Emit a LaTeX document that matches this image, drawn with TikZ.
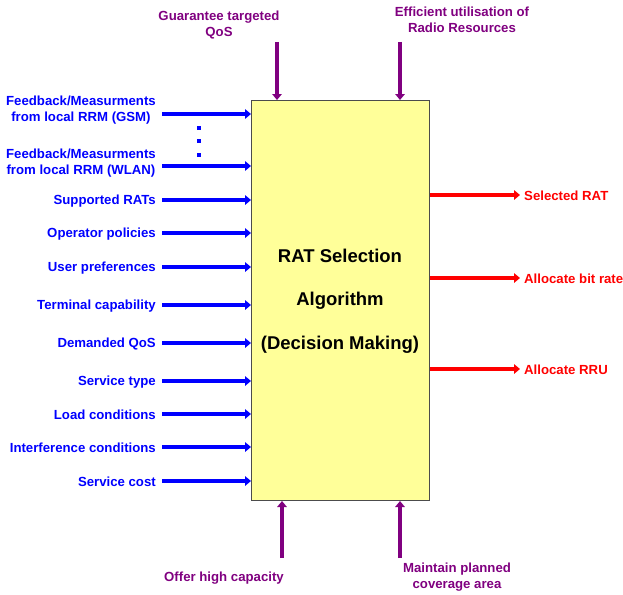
\documentclass[tikz,border=0pt]{standalone}
\usepackage{fontspec}
\setmainfont{Liberation Sans}
\usetikzlibrary{arrows.meta}
\definecolor{inblue}{RGB}{0,0,255}
\definecolor{outred}{RGB}{255,0,0}
\definecolor{goalpurple}{RGB}{128,0,128}
\definecolor{boxyellow}{RGB}{255,255,153}
\tikzset{
  lbl/.style={font=\fontsize{13.2}{16}\selectfont\bfseries, inner sep=0pt, align=center},
  inarrow/.style={draw=inblue, line width=4pt, -{Triangle[length=6pt,width=9.5pt]}},
  outarrow/.style={draw=outred, line width=4pt, -{Triangle[length=6pt,width=9.5pt]}},
  goalarrow/.style={draw=goalpurple, line width=4pt, -{Triangle[length=6pt,width=9.5pt]}},
  dotmark/.style={fill=inblue, inner sep=0pt, minimum size=3.5pt},
  ctext/.style={font=\fontsize{18.5}{22}\selectfont\bfseries, inner sep=0pt}
}
\begin{document}
\begin{tikzpicture}[x=1pt,y=-1pt]
\useasboundingbox (0,0) rectangle (623,594);
% main box
\node[draw=black!70, fill=boxyellow, line width=1pt, minimum width=178pt, minimum height=400pt, anchor=north west, inner sep=0pt] (box) at (251,100) {};
\node[ctext] (t1) at (340,256) {RAT Selection};
\node[ctext] (t2) at (340,301) {Algorithm};
\node[ctext] (t3) at (340,345) {(Decision Making)};

% left inputs
\foreach \name/\y/\ly/\txt in {
  gsm/114/110/{Feedback/Measurments\\from local RRM (GSM)},
  wlan/166/163/{Feedback/Measurments\\from local RRM (WLAN)},
  rats/200/201/{Supported RATs},
  oper/233/234/{Operator policies},
  user/267/268/{User preferences},
  term/305/306/{Terminal capability},
  dem/343/344/{Demanded QoS},
  serv/381/382/{Service type},
  load/414/415/{Load conditions},
  intf/447/448/{Interference conditions},
  cost/481/482/{Service cost}} {
  \node[lbl, text=inblue, anchor=east] (l\name) at (156,\ly) {\txt};
  \coordinate (s\name) at (162,\y);
  \draw[inarrow] (s\name) -- (s\name -| box.west);
}
\node[dotmark] (d1) at (199,128) {};
\node[dotmark] (d2) at (199,141) {};
\node[dotmark] (d3) at (199,155) {};

% outputs
\foreach \name/\y/\txt in {sel/195/{Selected RAT}, bit/278/{Allocate bit rate}, rru/369/{Allocate RRU}} {
  \coordinate (e\name) at (520,\y);
  \draw[outarrow] (e\name -| box.east) -- (e\name);
  \node[lbl, text=outred, anchor=west] (o\name) at (524,\y+1) {\txt};
}

% top goals
\node[lbl, text=goalpurple] (gq) at (219,25) {Guarantee targeted\\QoS};
\node[lbl, text=goalpurple] (ge) at (462,20) {Efficient utilisation of\\Radio Resources};
\coordinate (gqs) at (277,42);
\coordinate (ges) at (400,42);
\draw[goalarrow] (gqs) -- (gqs |- box.north);
\draw[goalarrow] (ges) -- (ges |- box.north);

% bottom goals
\node[lbl, text=goalpurple] (gc) at (224,578) {Offer high capacity};
\node[lbl, text=goalpurple] (gm) at (457,577) {Maintain planned\\coverage area};
\coordinate (gcs) at (282,558);
\coordinate (gms) at (400,558);
\draw[goalarrow] (gcs) -- (gcs |- box.south);
\draw[goalarrow] (gms) -- (gms |- box.south);
\end{tikzpicture}
\end{document}
